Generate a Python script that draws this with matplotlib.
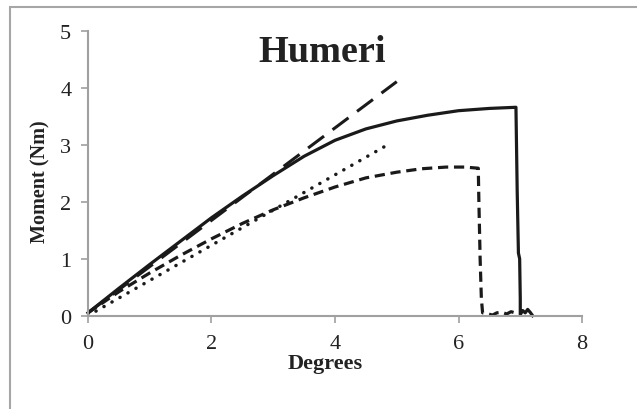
import matplotlib.pyplot as plt
from matplotlib.patches import Rectangle

plt.rcParams['font.family'] = ['Liberation Serif', 'DejaVu Serif']

# Specimen 1 (solid): curve up to failure, then drop to zero
deg_a = [0.0, 0.5, 1.0, 1.5, 2.0, 2.5, 3.0, 3.5, 4.0, 4.5, 5.0, 5.5, 6.0, 6.5, 6.93,
         6.95, 6.97, 6.99, 7.0, 7.0, 7.04, 7.08, 7.12, 7.16, 7.2]
mom_a = [0.05, 0.48, 0.9, 1.31, 1.72, 2.1, 2.46, 2.8, 3.08, 3.28, 3.42, 3.52, 3.6, 3.64, 3.66,
         2.2, 1.1, 1.0, 0.3, 0.02, 0.09, 0.05, 0.11, 0.06, 0.0]

# Specimen 2 (long dash): linear
deg_b = [0.0, 5.0]
mom_b = [0.05, 4.11]

# Specimen 3 (medium dash)
deg_c = [0.0, 0.5, 1.0, 1.5, 2.0, 2.5, 3.0, 3.5, 4.0, 4.5, 5.0, 5.4, 5.8, 6.1, 6.32,
         6.33, 6.35, 6.37, 6.39, 6.45, 6.55, 6.62, 6.7, 6.78, 6.85, 6.95]
mom_c = [0.05, 0.42, 0.75, 1.06, 1.35, 1.62, 1.86, 2.07, 2.26, 2.42, 2.52, 2.58, 2.61, 2.61, 2.59,
         2.0, 1.0, 0.3, 0.05, 0.04, 0.01, 0.05, 0.06, 0.03, 0.07, 0.04]

# Specimen 4 (dotted): linear
deg_d = [0.0, 4.9]
mom_d = [0.0, 3.03]

fig = plt.figure(figsize=(6.37, 4.10), dpi=100)
ax = fig.add_axes([0.1381, 0.2276, 0.9137 - 0.1381, 0.922 - 0.2276])

# chart frame (right and bottom edges fall outside the canvas)
fig.patches.append(Rectangle((10 / 637, -0.1), 1.1, 1.1 - 8 / 410,
                             transform=fig.transFigure, fill=False,
                             edgecolor='#a6a6a6', linewidth=1.5))

lc = '#1a1a1a'
ax.plot(deg_a, mom_a, color=lc, lw=2.3, solid_joinstyle='round', clip_on=False)
ax.plot(deg_b, mom_b, color=lc, lw=2.2, linestyle=(0, (6.5, 3.5)))
ax.plot(deg_c, mom_c, color=lc, lw=2.3, linestyle=(0, (3.2, 1.8)), clip_on=False)
ax.plot(deg_d, mom_d, color=lc, lw=2.5, linestyle=(0, (0.05, 2.6)),
        dash_capstyle='round')

ax.set_xlim(0, 8)
ax.set_ylim(0, 5)
ax.set_xticks([0, 2, 4, 6, 8])
ax.set_yticks([0, 1, 2, 3, 4, 5])

for s in ['top', 'right']:
    ax.spines[s].set_visible(False)
for s in ['left', 'bottom']:
    ax.spines[s].set_color('#a0a0a0')
    ax.spines[s].set_linewidth(1.5)
ax.tick_params(colors='#a0a0a0', labelcolor='#222222', labelsize=16,
               length=5, width=1.2, direction='out')
ax.tick_params(axis='y', pad=7)
ax.tick_params(axis='x', pad=8)

ax.text(0.4747, 0.8946, 'Humeri', transform=ax.transAxes, ha='center', va='baseline',
        fontsize=27.5, fontweight='bold', color='#222222')
ax.set_xlabel('Degrees', fontsize=16, fontweight='bold', color='#222222')
ax.set_ylabel('Moment (Nm)', fontsize=14.5, fontweight='bold', color='#222222')
ax.xaxis.set_label_coords(0.48, -0.13)
ax.yaxis.set_label_coords(-0.075, 0.473)

fig.savefig('out.png', dpi=100)
